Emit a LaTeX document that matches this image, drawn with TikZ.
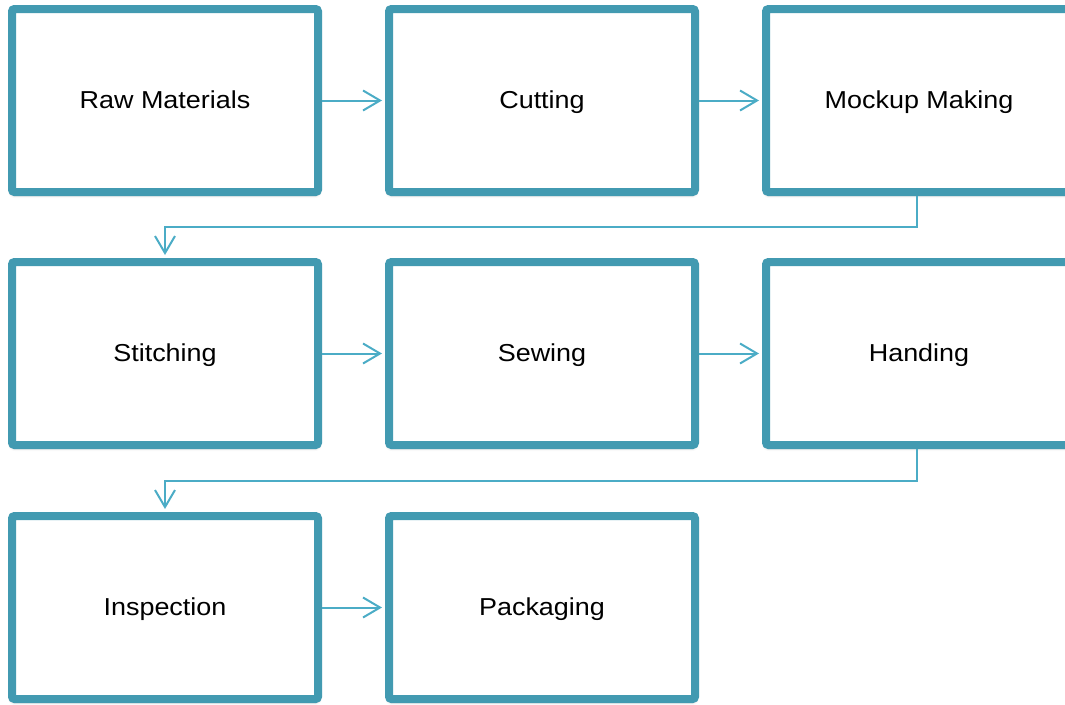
\documentclass[tikz,border=0pt]{standalone}
\usepackage{fontspec}
\setmainfont{Liberation Sans}
\newfontfamily\labelfont[FakeStretch=1.1]{Liberation Sans}
\usetikzlibrary{arrows.meta,shadows.blur}
\definecolor{boxline}{RGB}{66,154,177}
\definecolor{flowline}{RGB}{75,172,198}
\tikzset{
  stage/.style={draw=boxline, line width=8pt, fill=white, rounded corners=2.5pt,
    minimum width=306pt, minimum height=183pt, inner sep=0pt,
    text height=17.5pt, text depth=1.5pt,
    font=\labelfont\fontsize{24.5}{29}\selectfont,
    blur shadow={shadow xshift=0pt, shadow yshift=-2pt, shadow blur radius=4pt, shadow opacity=40}},
  flow/.style={draw=flowline, line width=2pt,
    -{Straight Barb[length=17pt,width=20pt]}, shorten >=3pt},
  link/.style={draw=flowline, line width=2pt,
    -{Straight Barb[length=17pt,width=20pt]}, shorten >=3pt}
}
\begin{document}
\begin{tikzpicture}[x=1pt,y=-1pt]
  \useasboundingbox (0,0) rectangle (1065,704);
  \clip (0,0) rectangle (1065,704);

  % first row
  \node[stage] (raw)  at (165,100.5) {Raw Materials};
  \node[stage] (cut)  at (542,100.5) {Cutting};
  \node[stage] (mock) at (919,100.5) {Mockup Making};
  % second row
  \node[stage] (stitch) at (165,353.5) {Stitching};
  \node[stage] (sew)    at (542,353.5) {Sewing};
  \node[stage] (hand)   at (919,353.5) {Handing};
  % third row
  \node[stage] (insp) at (165,607.5) {Inspection};
  \node[stage] (pack) at (542,607.5) {Packaging};

  % connectors within rows
  \draw[flow] (raw) -- (cut);
  \draw[flow] (cut) -- (mock);
  \draw[flow] (stitch) -- (sew);
  \draw[flow] (sew) -- (hand);
  \draw[flow] (insp) -- (pack);

  % connectors between rows
  \coordinate (turnA) at (917,227);
  \coordinate (turnB) at (917,480.5);
  \draw[link] ([xshift=-2pt]mock.south) -- (turnA) -| (stitch.north);
  \draw[link] ([xshift=-2pt]hand.south) -- (turnB) -| (insp.north);
\end{tikzpicture}
\end{document}
